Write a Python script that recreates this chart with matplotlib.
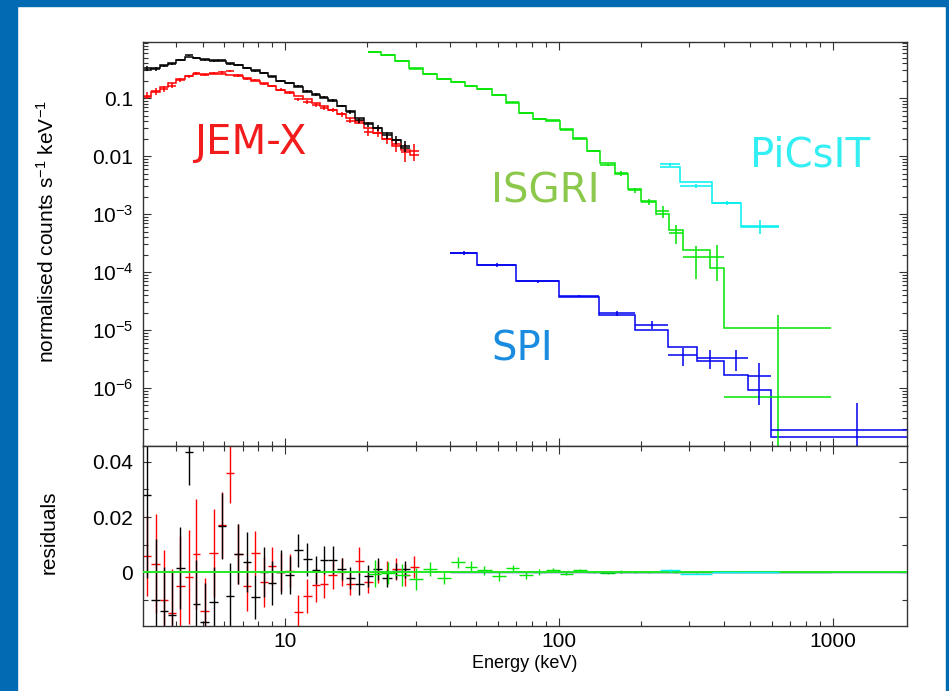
import numpy as np
import matplotlib
matplotlib.use('Agg')
import matplotlib.pyplot as plt
from matplotlib.patches import Rectangle
from matplotlib.ticker import FixedLocator, FixedFormatter, LogLocator, MultipleLocator, NullFormatter

plt.rcParams['font.family'] = ['Liberation Sans', 'DejaVu Sans']
plt.rcParams['mathtext.fontset'] = 'custom'
plt.rcParams['mathtext.rm'] = 'Liberation Sans'
plt.rcParams['mathtext.it'] = 'Liberation Sans:italic'

# ---- JEM-X (two units, black + red), energies in keV ----
jemx_edges = [3.0, 3.25, 3.5, 3.75, 4.0, 4.3, 4.6, 4.9, 5.3, 5.7, 6.1, 6.5, 7.0, 7.5,
              8.1, 8.7, 9.3, 10.0, 10.8, 11.6, 12.5, 13.4, 14.4, 15.5, 16.7, 18.0,
              19.4, 21.0, 22.7, 24.5, 26.5, 28.6, 30.8]
jemx1_model = [0.30, 0.33, 0.37, 0.41, 0.46, 0.51, 0.50, 0.47, 0.45, 0.43, 0.40, 0.37,
               0.33, 0.30, 0.27, 0.24, 0.20, 0.18, 0.155, 0.13, 0.115, 0.10, 0.088,
               0.072, 0.060, 0.046, 0.037, 0.030, 0.025, 0.019, 0.014]
jemx1_resid = [0.028, -0.010, -0.014, -0.0156, 0.0015, 0.0436, -0.0116, -0.018, -0.011,
               0.0167, -0.0087, 0.0065, 0.0037, -0.009, 0.0, -0.004, 0.0, -0.001, 0.008,
               0.0047, 0.0007, 0.0044, 0.0044, 0.001, -0.002, -0.0044, -0.0015, 0.001,
               -0.0023, 0.0003, 0.001]
jemx1_err = [0.03, 0.022, 0.016, 0.016, 0.015, 0.012, 0.016, 0.014, 0.013, 0.012, 0.012,
             0.011, 0.011, 0.008, 0.009, 0.008, 0.008, 0.007, 0.006, 0.006, 0.005, 0.005,
             0.005, 0.004, 0.004, 0.004, 0.004, 0.004, 0.003, 0.003, 0.003]
jemx2_model = [0.105, 0.13, 0.155, 0.18, 0.21, 0.24, 0.26, 0.265, 0.265, 0.26, 0.255, 0.24,
               0.22, 0.20, 0.18, 0.16, 0.14, 0.125, 0.11, 0.095, 0.082, 0.072, 0.063,
               0.053, 0.045, 0.037, 0.030, 0.025, 0.020, 0.015, 0.013, 0.0105]
jemx2_resid = [0.0058, 0.003, -0.010, -0.015, -0.005, -0.0018, 0.0065, -0.014, 0.0069,
               0.017, 0.036, 0.0065, -0.005, 0.0069, -0.0036, 0.0022, 0.0, 0.0004, -0.0145,
               -0.0087, -0.0047, -0.0044, -0.001, 0.0, -0.0044, 0.004, -0.0036, 0.0, 0.0,
               0.001, -0.001, 0.0018]
jemx2_err = [0.0145, 0.018, 0.018, 0.016, 0.018, 0.017, 0.02, 0.012, 0.016, 0.012, 0.011,
             0.011, 0.009, 0.008, 0.009, 0.007, 0.007, 0.006, 0.006, 0.006, 0.006, 0.005,
             0.005, 0.005, 0.004, 0.005, 0.004, 0.004, 0.004, 0.004, 0.004, 0.004]

# ---- ISGRI ----
isgri_edges = [20.1, 22.5, 25.2, 28.4, 31.8, 36.0, 40.3, 45.4, 50.4, 56.8, 64.1, 71.7,
               80.2, 89.7, 100.9, 112.8, 126.8, 141.9, 160, 179, 200, 227, 253, 284,
               356, 400, 991]
isgri_model = [0.614, 0.551, 0.44, 0.325, 0.259, 0.213, 0.187, 0.163, 0.141, 0.113, 0.083,
               0.0558, 0.043, 0.0406, 0.0289, 0.0196, 0.0123, 0.00748, 0.00483, 0.00267,
               0.00169, 9.9e-4, 5.3e-4, 2.4e-4, 1.19e-4, 1.1e-5]
isgri_resid = [-0.0006, -0.0005, -0.001, -0.0027, 0.0012, -0.002, 0.0036, 0.002, 0.0006,
               -0.0015, 0.0014, -0.0012, 0.0, 0.0008, -0.0006, 0.0006, 0.0, -0.0004,
               0.0002, -0.0001, -0.00008, 0.00012, -0.00005, -0.00006, 0.00006, -1.03e-5]
isgri_err = [0.005, 0.004, 0.004, 0.004, 0.0025, 0.0025, 0.002, 0.002, 0.0015, 0.0018,
             0.0012, 0.0012, 0.001, 0.0008, 0.0006, 0.0005, 0.0004, 0.0003, 0.0004, 0.0003,
             0.0002, 0.00025, 0.00017, 0.000105, 0.00011, 1.73e-5]

# ---- SPI ----
spi_edges = [40.0, 50.4, 69.8, 100.2, 140, 190.5, 251.5, 320, 400, 489, 594, 2530]
spi_model = [2.15e-4, 1.32e-4, 7.0e-5, 3.75e-5, 1.85e-5, 9.9e-6, 5.15e-6, 2.92e-6,
             1.66e-6, 9.2e-7, 1.45e-7]
spi_resid = [0.0, 0.0, 0.0, 1e-6, 1e-6, 2.5e-6, -1.45e-6, 3.7e-7, 1.63e-6, 6.9e-7, 4.4e-8]
spi_err = [1.7e-5, 1.0e-5, 4e-6, 2e-6, 2.2e-6, 1.9e-6, 1.3e-6, 1.2e-6, 1.3e-6, 1.1e-6, 3.6e-7]

# ---- PiCsIT ----
picsit_edges = [234, 277, 364, 464, 637]
picsit_model = [6.55e-3, 3.6e-3, 1.57e-3, 5.9e-4]
picsit_resid = [6.5e-4, -5.6e-4, 0.0, 3e-5]
picsit_err = [5e-4, 2.5e-4, 1.3e-4, 1.7e-4]

ytick_vals = [1e-6, 1e-5, 1e-4, 1e-3, 0.01, 0.1]
ytick_labels = ['10$^{-6}$', '10$^{-5}$', '10$^{-4}$', '10$^{-3}$', '0.01', '0.1']
xtick_vals = [10, 100, 1000]
xtick_labels = ['10', '100', '1000']
rtick_vals = [0, 0.02, 0.04]
rtick_labels = ['0', '0.02', '0.04']

W, H = 949, 691
fig = plt.figure(figsize=(W / 100, H / 100), dpi=100)
fig.patch.set_facecolor('white')

frame_col = '#006AB3'
fig.patches.append(Rectangle((0, 1 - 6 / H), 1, 6 / H, transform=fig.transFigure, color=frame_col))
fig.patches.append(Rectangle((0, 0), 17 / W, 1, transform=fig.transFigure, color=frame_col))
fig.patches.append(Rectangle((946 / W, 0), 3 / W, 1, transform=fig.transFigure, color=frame_col))

x0, x1 = 143, 907
ax = fig.add_axes([x0 / W, (H - 446) / H, (x1 - x0) / W, (446 - 42) / H])
axr = fig.add_axes([x0 / W, (H - 626) / H, (x1 - x0) / W, (626 - 446) / H], sharex=ax)


def draw(edges, model, resid, err, color, rz=2):
    edges = np.asarray(edges, dtype=float)
    model = np.asarray(model)
    resid = np.asarray(resid)
    lo, hi = edges[:-1], edges[1:]
    c = np.sqrt(lo * hi)
    xe = [c - lo, hi - c]
    ax.stairs(model, edges, baseline=None, color=color, lw=1.1)
    ax.errorbar(c, model + resid, xerr=xe, yerr=err, fmt='none', ecolor=color,
                elinewidth=1.1, capsize=0)
    axr.errorbar(c, resid, xerr=xe, yerr=err, fmt='none', ecolor=color,
                 elinewidth=1.0, capsize=0, zorder=rz)


draw(jemx_edges, jemx2_model, jemx2_resid, jemx2_err, '#FF0000')
draw(jemx_edges[:32], jemx1_model, jemx1_resid, jemx1_err, '#000000')
draw(isgri_edges, isgri_model, isgri_resid, isgri_err, '#00E600')
draw(spi_edges, spi_model, spi_resid, spi_err, '#0000F0')
axr.axhline(0, color='#22E822', lw=1.4, zorder=3)
draw(picsit_edges, picsit_model, picsit_resid, picsit_err, '#00F0F0', rz=4)

ax.set_xscale('log')
ax.set_yscale('log')
ax.set_xlim(3.03, 1870)
ax.set_ylim(1.0e-7, 0.93)
axr.set_ylim(-0.0196, 0.0458)

spine_col = '#333333'
for a in (ax, axr):
    for s in a.spines.values():
        s.set_color(spine_col)
        s.set_linewidth(1.0)
    a.tick_params(which='both', direction='in', top=True, right=True, color=spine_col,
                  width=0.8, labelsize=15)
    a.tick_params(which='major', length=6)
    a.tick_params(which='minor', length=3.5)
    a.xaxis.set_major_locator(FixedLocator(xtick_vals))
    a.xaxis.set_minor_locator(LogLocator(base=10, subs=np.arange(2, 10), numticks=20))
    a.xaxis.set_minor_formatter(NullFormatter())

ax.yaxis.set_major_locator(FixedLocator(ytick_vals))
ax.yaxis.set_major_formatter(FixedFormatter(ytick_labels))
ax.yaxis.set_minor_locator(LogLocator(base=10, subs=np.arange(2, 10), numticks=20))
ax.yaxis.set_minor_formatter(NullFormatter())
ax.tick_params(axis='x', labelbottom=False)
ax.tick_params(axis='y', pad=7)

axr.yaxis.set_major_locator(FixedLocator(rtick_vals))
axr.yaxis.set_major_formatter(FixedFormatter(rtick_labels))
axr.yaxis.set_minor_locator(MultipleLocator(0.01))
axr.xaxis.set_major_formatter(FixedFormatter(xtick_labels))
axr.tick_params(axis='y', pad=7)
axr.tick_params(axis='x', pad=4)

ax.set_ylabel('normalised counts s$^{-1}$ keV$^{-1}$', fontsize=15)
ax.yaxis.set_label_coords(-0.111, 0.53)
axr.set_ylabel('residuals', fontsize=15)
axr.yaxis.set_label_coords(-0.111, 0.522)
axr.set_xlabel('Energy (keV)', fontsize=13)
axr.xaxis.set_label_coords(0.5, -0.163)

lab = dict(family='DejaVu Sans', fontsize=29, ha='center', va='center', transform=ax.transAxes)
ax.text(0.140, 0.750, 'JEM-X', color='#F21C1C', **lab)
ax.text(0.526, 0.629, 'ISGRI', color='#8CC84B', **lab)
ax.text(0.873, 0.720, 'PiCsIT', color='#33EEF2', **lab)
ax.text(0.497, 0.238, 'SPI', color='#1A8CE0', **lab)

fig.savefig('out.png', dpi=100, facecolor='white')
